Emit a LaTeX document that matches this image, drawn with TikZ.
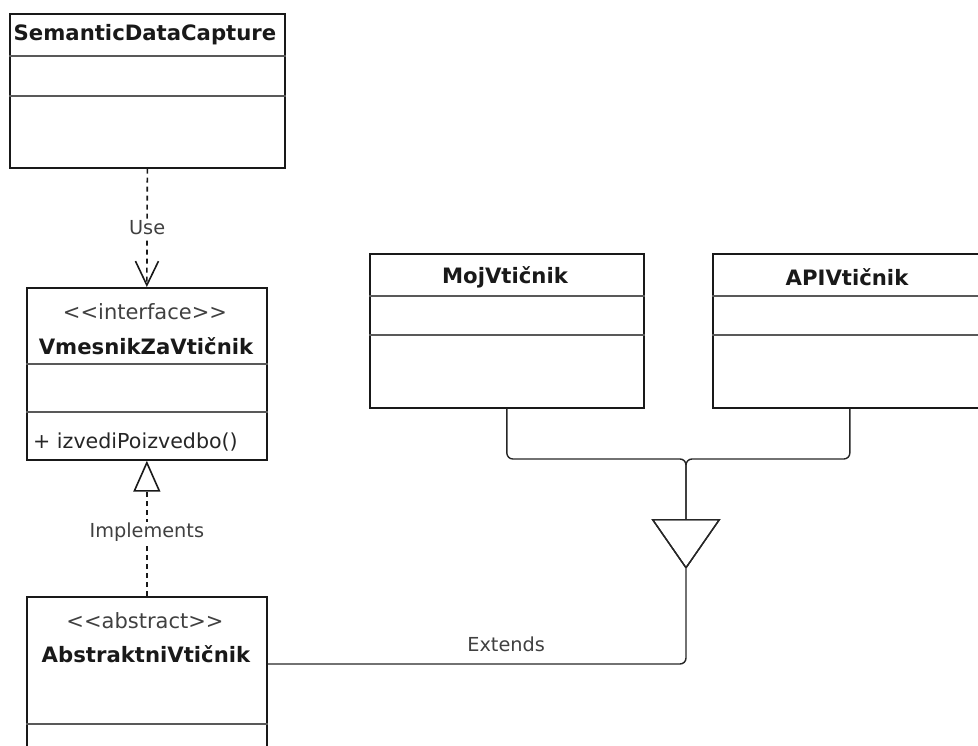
\documentclass[tikz,border=0pt]{standalone}
\usepackage{fontspec}
\setmainfont{DejaVu Sans}[Ligatures=TeXOff]
\usepackage{tikz}
\usetikzlibrary{arrows.meta, positioning}

\begin{document}
\begin{tikzpicture}[
        x=1pt, y=-1pt,
        cls/.style={draw=black!90, line width=1.7pt, anchor=north west, inner sep=0pt},
        sep/.style={draw=black!65, line width=1.1pt},
        ttl/.style={font=\fontsize{21.2}{25}\selectfont\bfseries, text=black!90, inner sep=0pt},
        stereo/.style={font=\fontsize{21}{25}\selectfont, text=black!75, inner sep=0pt},
        memb/.style={font=\fontsize{20.6}{25}\selectfont, text=black!85, inner sep=0pt, anchor=west},
        lab/.style={font=\fontsize{19.3}{23}\selectfont, text=black!75, fill=white, inner sep=1.5pt},
        dep/.style={draw=black!90, line width=1.6pt, dash pattern=on 5pt off 4pt},
        gen/.style={draw=black!85, line width=1.4pt, rounded corners=6pt}
    ]
        \useasboundingbox (0,0) rectangle (978,746);
        \clip (0,0) rectangle (978,746);

        % 类框
        \node[cls, minimum width=275pt, minimum height=154pt] (sdc) at (9,13) {};
        \node[cls, minimum width=240pt, minimum height=172pt] (vmz) at (26,287) {};
        \node[cls, minimum width=240pt, minimum height=175pt] (abs) at (26,596) {};
        \node[cls, minimum width=274pt, minimum height=154pt] (moj) at (369,253) {};
        \node[cls, minimum width=274pt, minimum height=154pt] (api) at (712,253) {};

        % 分隔线
        \draw[sep] ([yshift=-43pt]sdc.north west) -- ([yshift=-43pt]sdc.north east);
        \draw[sep] ([yshift=-83pt]sdc.north west) -- ([yshift=-83pt]sdc.north east);
        \draw[sep] ([yshift=-77pt]vmz.north west) -- ([yshift=-77pt]vmz.north east);
        \draw[sep] ([yshift=-125pt]vmz.north west) -- ([yshift=-125pt]vmz.north east);
        \draw[sep] ([yshift=-128pt]abs.north west) -- ([yshift=-128pt]abs.north east);
        \draw[sep] ([yshift=-43pt]moj.north west) -- ([yshift=-43pt]moj.north east);
        \draw[sep] ([yshift=-82pt]moj.north west) -- ([yshift=-82pt]moj.north east);
        \draw[sep] ([yshift=-43pt]api.north west) -- ([yshift=-43pt]api.north east);
        \draw[sep] ([yshift=-82pt]api.north west) -- ([yshift=-82pt]api.north east);

        % 类名
        \node[ttl] (sdcT) at (145,35) {SemanticDataCapture};
        \node[stereo] (vmzS) at (145,312) {<<interface>>};
        \node[ttl] (vmzT) at (146,346) {VmesnikZaVtičnik};
        \node[memb] (vmzM) at (33,442) {+ izvediPoizvedbo()};
        \node[stereo] (absS) at (145,621) {<<abstract>>};
        \node[ttl] (absT) at (146,654) {AbstraktniVtičnik};
        \node[ttl] (mojT) at (505,277) {MojVtičnik};
        \node[ttl] (apiT) at (847,277) {APIVtičnik};

        % 依赖与实现(虚线)
        \draw[dep, -{Straight Barb[length=24pt, width=23pt]}] (sdc.south) -- node[lab]{Use} (vmz.north);
        \draw[dep, -{Triangle[open, length=31pt, width=27pt]}] (abs.north) -- node[lab, pos=.47]{Implements} (vmz.south);

        % 继承(汇合到一个三角形)
        \coordinate (jn) at (686,459);
        \coordinate (tri) at (686,569);
        \coordinate (ext) at (686,664);
        \draw[gen, -{Triangle[open, length=50pt, width=69pt]}] (moj.south) |- (jn) -- (tri);
        \draw[gen, -{Triangle[open, length=50pt, width=69pt]}] (api.south) |- (jn) -- (tri);
        \draw[gen] (tri) -- (ext) -- node[pos=.43, above=12pt, inner sep=0pt, font=\fontsize{19.3}{23}\selectfont, text=black!75]{Extends} (abs.east |- ext);
    \end{tikzpicture}
\end{document}
